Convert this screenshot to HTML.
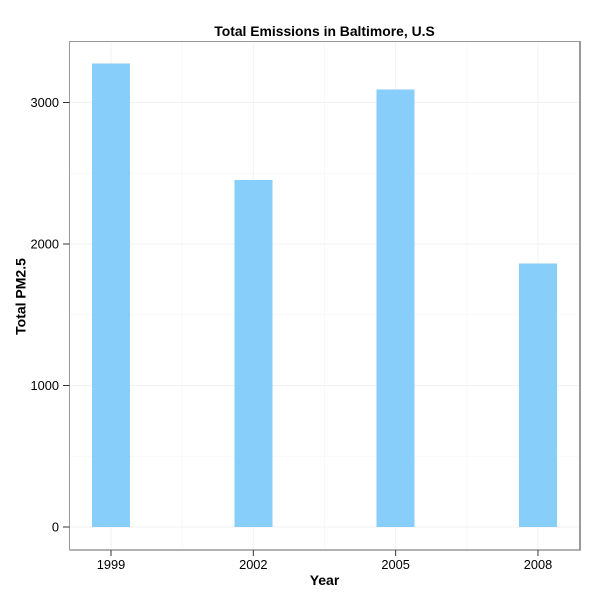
<!DOCTYPE html>
<html>
<head>
<meta charset="utf-8">
<title>Total Emissions in Baltimore, U.S</title>
<style>
html,body{margin:0;padding:0;background:#fff;width:600px;height:600px;overflow:hidden}
svg{display:block}
text{font-family:"Liberation Sans",sans-serif;fill:#000}
</style>
</head>
<body>
<svg id="chart" width="600" height="600" viewBox="0 0 600 600" xmlns="http://www.w3.org/2000/svg"></svg>
<script>
const years = [1999, 2002, 2005, 2008];
const emissions = [3274, 2454, 3091, 1862];
const yTicks = [0, 1000, 2000, 3000];
const yMinorTicks = [500, 1500, 2500];
const xMinorTicks = [2000.5, 2003.5, 2006.5];
const barWidthYears = 0.8;

const panelLeft = 69.5, panelRight = 580, panelTop = 41.5, panelBottom = 550;
const xScale = v => 111 + (v - 1999) * 47.44;
const yScale = v => 527 - v * 0.1415;

const svg = document.getElementById('chart');
function add(tag, attrs, parent, text) {
  const el = document.createElementNS('http://www.w3.org/2000/svg', tag);
  for (const k in attrs) el.setAttribute(k, attrs[k]);
  if (text !== undefined) el.textContent = text;
  (parent || svg).appendChild(el);
  return el;
}

const background = add('rect', {x: panelLeft, y: panelTop, width: panelRight - panelLeft, height: panelBottom - panelTop, fill: '#fff'});



const grid = add('g', {});


yMinorTicks.forEach(v => {
  const l = add('line', {x1: panelLeft, x2: panelRight, y1: yScale(v), y2: yScale(v), stroke: '#f7f7f7', 'stroke-width': 0.8}, grid);
  
  
});
xMinorTicks.forEach(v => {
  const l = add('line', {x1: xScale(v), x2: xScale(v), y1: panelTop, y2: panelBottom, stroke: '#f7f7f7', 'stroke-width': 0.8}, grid);
  
  
});
yTicks.forEach(v => {
  const l = add('line', {x1: panelLeft, x2: panelRight, y1: yScale(v), y2: yScale(v), stroke: '#f2f2f2', 'stroke-width': 1}, grid);
  
  
});
years.forEach(v => {
  const l = add('line', {x1: xScale(v), x2: xScale(v), y1: panelTop, y2: panelBottom, stroke: '#f2f2f2', 'stroke-width': 1}, grid);
  
  
});

years.forEach((yr, i) => {
  const left = xScale(yr - barWidthYears / 2), right = xScale(yr + barWidthYears / 2);
  const bar = add('rect', {x: left, y: yScale(emissions[i]), width: right - left, height: yScale(0) - yScale(emissions[i]), fill: '#87cefa', 'shape-rendering': 'crispEdges'});
  
  
});

const borderLeft = add('line', {x1: panelLeft, x2: panelLeft, y1: panelTop, y2: panelBottom, stroke: '#999', 'stroke-width': 1});


const borderTop = add('line', {x1: panelLeft, x2: panelRight, y1: panelTop, y2: panelTop, stroke: '#999', 'stroke-width': 1});


const borderRight = add('line', {x1: panelRight, x2: panelRight, y1: panelTop - 0.5, y2: panelBottom + 0.7, stroke: '#999', 'stroke-width': 2});


const borderBottom = add('line', {x1: panelLeft, x2: panelRight, y1: panelBottom, y2: panelBottom, stroke: '#999', 'stroke-width': 1.4});



yTicks.forEach(v => {
  const t = add('line', {x1: panelLeft - 6.5, x2: panelLeft, y1: yScale(v), y2: yScale(v), stroke: '#333', 'stroke-width': 1});
  
  
  const lab = add('text', {x: 59, y: yScale(v) + 4.5, 'text-anchor': 'end', 'font-size': 12.8}, svg, String(v));
  
  
});
years.forEach(v => {
  const t = add('line', {x1: xScale(v), x2: xScale(v), y1: panelBottom, y2: panelBottom + 6, stroke: '#333', 'stroke-width': 1});
  
  
  const lab = add('text', {x: xScale(v), y: 569, 'text-anchor': 'middle', 'font-size': 12.8}, svg, String(v));
  
  
});
</script>
<svg width="600" height="600" viewBox="0 0 600 600" xmlns="http://www.w3.org/2000/svg" style="position:absolute;left:0;top:0;pointer-events:none">
<text x="324.5" y="36" text-anchor="middle" font-size="13.9" font-weight="bold">Total Emissions in Baltimore, U.S</text>
<text x="324.5" y="585" text-anchor="middle" font-size="14" font-weight="bold">Year</text>
<text x="25.5" y="296.5" text-anchor="middle" font-size="14" font-weight="bold" transform="rotate(-90 25.5 296.5)">Total PM2.5</text>
</svg>
</body>
</html>
